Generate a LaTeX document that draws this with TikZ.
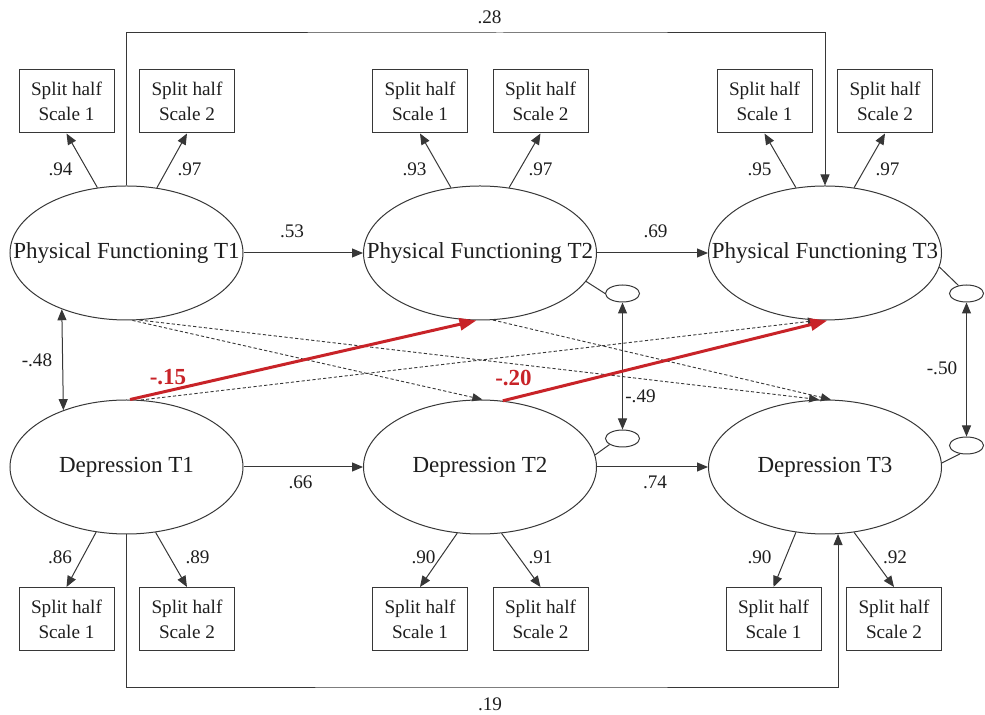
\documentclass[tikz,border=0pt]{standalone}
\usepackage{fontspec}
\setmainfont{Liberation Serif}
\usetikzlibrary{shapes.geometric,arrows.meta}
\definecolor{lc}{RGB}{55,55,55}
\definecolor{tc}{RGB}{30,30,30}
\definecolor{redp}{RGB}{200,35,40}
\begin{document}
\begin{tikzpicture}[x=0.5pt,y=-0.5pt,
 lat/.style={ellipse,draw=lc,line width=0.5pt,minimum width=116.5pt,minimum height=67pt,inner sep=0pt,font=\fontsize{11.5}{13}\selectfont,text=tc},
 obs/.style={draw=lc,line width=0.5pt,minimum width=47.5pt,minimum height=31.5pt,inner sep=0pt,align=center,font=\fontsize{9.6}{12.5}\selectfont,text=tc},
 res/.style={ellipse,draw=lc,line width=0.5pt,minimum width=17pt,minimum height=8.5pt,inner sep=0pt},
 coef/.style={font=\fontsize{9.6}{11}\selectfont,inner sep=0pt,text=tc},
 rcoef/.style={font=\bfseries\fontsize{11.5}{13}\selectfont,text=redp,inner sep=0pt},
 arr/.style={draw=lc,line width=0.5pt,-{Triangle[length=5.5pt,width=4.5pt]}},
 dbl/.style={draw=lc,line width=0.5pt,{Triangle[length=5.5pt,width=4.5pt]}-{Triangle[length=5.5pt,width=4.5pt]}},
 darr/.style={draw=lc,line width=0.45pt,dash pattern=on 1.6pt off 1.1pt,-{Triangle[length=5pt,width=4pt]}},
 rarr/.style={draw=redp,line width=1.5pt,-{Triangle[length=8.5pt,width=6pt]}},
 plain/.style={draw=lc,line width=0.5pt}]
\useasboundingbox (0,0) rectangle (985,715);

% latent variables
\node[lat] (pf1) at (126.5,253) {\makebox[0pt]{Physical Functioning T1}};
\node[lat] (pf2) at (480,253) {\makebox[0pt]{Physical Functioning T2}};
\node[lat] (pf3) at (825,253) {\makebox[0pt]{Physical Functioning T3}};
\node[lat] (d1) at (126.5,467) {\makebox[0pt]{Depression T1}};
\node[lat] (d2) at (480,467) {\makebox[0pt]{Depression T2}};
\node[lat] (d3) at (825,467) {\makebox[0pt]{Depression T3}};

% observed indicators
\node[obs] (p1a) at (66.5,101.5) {Split half\\Scale 1};
\node[obs] (p1b) at (187,101.5) {Split half\\Scale 2};
\node[obs] (p2a) at (420,101.5) {Split half\\Scale 1};
\node[obs] (p2b) at (540.5,101.5) {Split half\\Scale 2};
\node[obs] (p3a) at (764.5,101.5) {Split half\\Scale 1};
\node[obs] (p3b) at (885,101.5) {Split half\\Scale 2};
\node[obs] (d1a) at (66.5,619) {Split half\\Scale 1};
\node[obs] (d1b) at (187,619) {Split half\\Scale 2};
\node[obs] (d2a) at (420,619) {Split half\\Scale 1};
\node[obs] (d2b) at (540.5,619) {Split half\\Scale 2};
\node[obs] (d3a) at (773.5,619) {Split half\\Scale 1};
\node[obs] (d3b) at (894,619) {Split half\\Scale 2};

% residuals
\node[res] (e2p) at (622.5,293.5) {};
\node[res] (e2d) at (622.5,438.5) {};
\node[res] (e3p) at (966.5,293.5) {};
\node[res] (e3d) at (966.5,445.5) {};

% loadings
\draw[arr] (pf1.114.5) -- (p1a.south);
\draw[arr] (pf1.65.5) -- (p1b.south);
\draw[arr] (pf2.114) -- (p2a.south);
\draw[arr] (pf2.66) -- (p2b.south);
\draw[arr] (pf3.114) -- (p3a.south);
\draw[arr] (pf3.66) -- (p3b.south);
\draw[arr] (d1.245.5) -- (d1a.north);
\draw[arr] (d1.294.5) -- (d1b.north);
\draw[arr] (d2.251.5) -- (d2a.north);
\draw[arr] (d2.288.5) -- (d2b.north);
\draw[arr] (d3.246) -- (d3a.north);
\draw[arr] (d3.294) -- (d3b.north);

\node[coef] (l94) at (60.5,169) {.94};
\node[coef] (l97a) at (189.5,169) {.97};
\node[coef] (l93) at (414.5,169) {.93};
\node[coef] (l97b) at (540.5,169) {.97};
\node[coef] (l95) at (759.5,169) {.95};
\node[coef] (l97c) at (887.5,169) {.97};
\node[coef] (l86) at (60,557) {.86};
\node[coef] (l89) at (197.5,557) {.89};
\node[coef] (l90a) at (423.5,557) {.90};
\node[coef] (l91) at (540.5,557) {.91};
\node[coef] (l90b) at (759.5,557) {.90};
\node[coef] (l92) at (895,557) {.92};

% autoregressive paths
\draw[arr] (pf1.east) -- (pf2.west);
\draw[arr] (pf2.east) -- (pf3.west);
\draw[arr] (d1.east) -- (d2.west);
\draw[arr] (d2.east) -- (d3.west);
\node[coef] (l53) at (292,231) {.53};
\node[coef] (l69) at (655.5,231) {.69};
\node[coef] (l66) at (300.5,482) {.66};
\node[coef] (l74) at (655,482) {.74};

\coordinate (k28) at (500,33);
\draw[arr] (pf1.north) |- (k28) -| (pf3.north);
\node[coef] (l28) at (489.5,17.5) {.28};
\coordinate (k19) at (500,687);
\draw[arr] (d1.south) |- (k19) -| (d3.281);
\node[coef] (l19) at (490,704.5) {.19};

% covariances
\draw[dbl] (pf1.221.5) -- (d1.138.5);
\node[coef] (l48) at (37,360) {-.48};
\draw[plain] (pf2.345) -- (e2p.west);
\draw[plain] (d2.6) -- (e2d.205);
\draw[plain] (pf3.353) -- (e3p.135);
\draw[plain] (d3.2) -- (e3d.232);
\draw[dbl] (e2p.south) -- (e2d.north);
\draw[dbl] (e3p.south) -- (e3d.north);
\node[coef] (l49) at (640.5,396.5) {-.49};
\node[coef] (l50) at (942,368.5) {-.50};

% cross-lagged paths
\draw[darr] (pf1.275.5) -- (d2.88);
\draw[darr] (pf1.281.5) -- (d3.95);
\draw[darr] (pf2.281) -- (d3.85);
\draw[darr] (d1.78.5) -- (pf3.264);
\draw[rarr] (d1.87) -- (pf2.267.5);
\draw[rarr] (d2.71.5) -- (pf3.272);
\node[rcoef] (l15) at (168,377.5) {-.15};
\node[rcoef] (l20) at (513.5,378.5) {-.20};
\end{tikzpicture}
\end{document}
